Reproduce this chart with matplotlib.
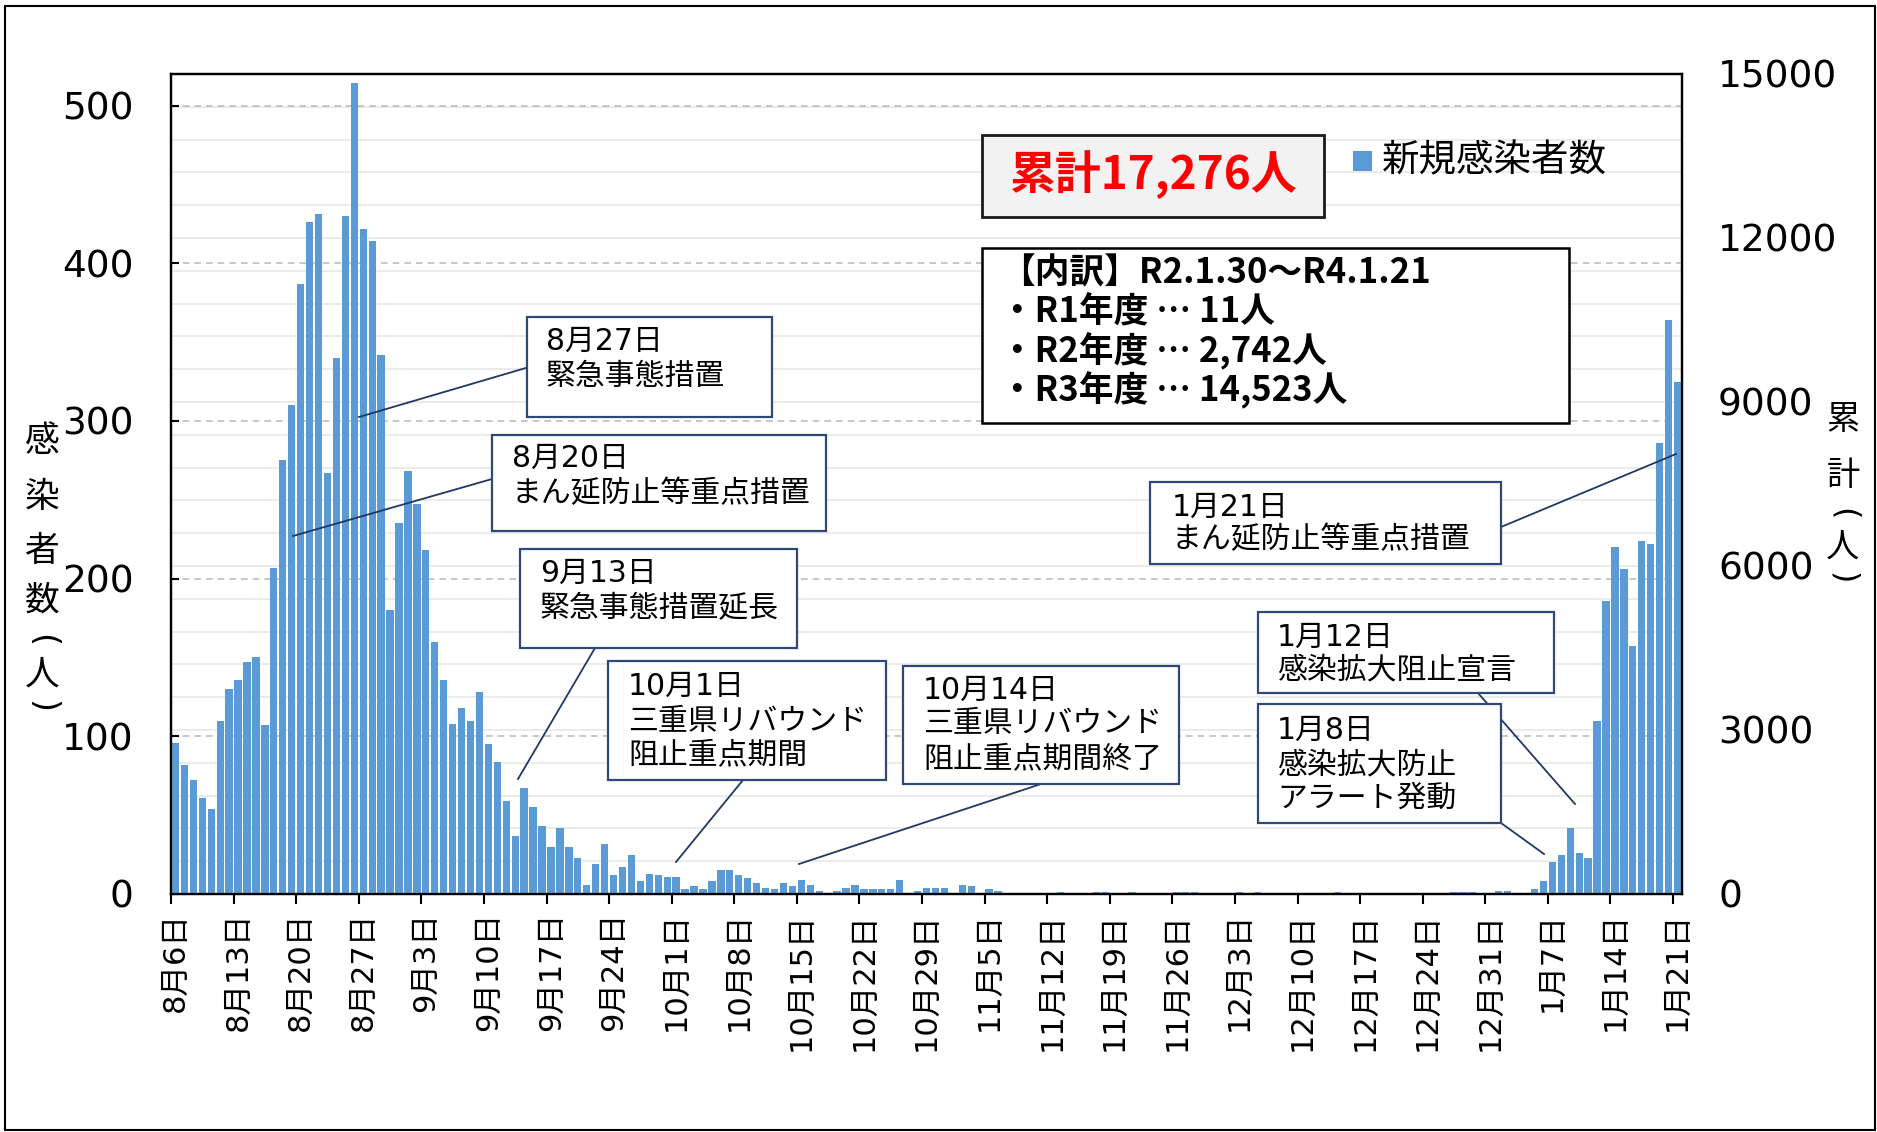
import numpy as np
import pandas as pd
import matplotlib
matplotlib.use('Agg')
import matplotlib.pyplot as plt
from matplotlib.patches import Rectangle
from matplotlib.lines import Line2D
from matplotlib.ticker import MultipleLocator

plt.rcParams['font.family'] = ['DejaVu Sans', 'Noto Sans CJK JP']

# ---------------- data (daily new cases) ----------------
aug = [96, 82, 72, 61, 54, 110, 130, 136, 147, 150, 107, 207, 275, 310, 387, 426,
       431, 267, 340, 430, 514, 422, 414, 342, 180, 235]
sep = [268, 247, 218, 160, 136, 108, 118, 110, 128, 95, 84, 59, 37, 67, 55, 43,
       30, 42, 30, 23, 6, 19, 32, 12, 17, 25, 8, 13, 12, 11]
octo = [11, 3, 5, 3, 8, 15, 15, 12, 10, 7, 4, 3, 7, 5, 9, 6, 2, 0, 2, 4, 6, 3, 3,
        3, 3, 9, 0, 2, 4, 4, 4]
nov = [0, 6, 5, 0, 3, 2, 0, 0, 0, 0, 0, 0, 1, 0, 0, 0, 1, 1, 0, 0, 1, 0, 0, 0, 0,
       1, 1, 1, 0, 0]
dec = [0, 0, 1, 0, 1, 0, 0, 0, 0, 0, 0, 0, 0, 1, 0, 0, 0, 0, 0, 0, 0, 0, 0, 0, 0,
       0, 1, 1, 1, 0, 0]
jan = [2, 2, 0, 0, 3, 8, 20, 25, 42, 26, 23, 110, 186, 220, 206, 157, 224, 222,
       286, 364, 325]
new_cases = aug + sep + octo + nov + dec + jan
dates = pd.date_range('2021-08-06', '2022-01-21', freq='D')
assert len(dates) == len(new_cases)

tick_labels = ['8月6日', '8月13日', '8月20日', '8月27日', '9月3日', '9月10日',
               '9月17日', '9月24日', '10月1日', '10月8日', '10月15日', '10月22日',
               '10月29日', '11月5日', '11月12日', '11月19日', '11月26日', '12月3日',
               '12月10日', '12月17日', '12月24日', '12月31日', '1月7日', '1月14日',
               '1月21日']

legend_label = '新規感染者数'
total_text = '累計17,276人'
breakdown = ['【内訳】R2.1.30～R4.1.21', '・R1年度 … 11人', '・R2年度 … 2,742人',
             '・R3年度 … 14,523人']
left_title = ['感', '染', '者', '数', '(', '人', ')']
right_title = ['累', '計', '(', '人', ')']

annotations = [
    # (lines, box(x0,y0,x1,y1) in px, line centers, text x, leader (x0,y0,x1,y1))
    (['8月27日', '緊急事態措置'], (527, 317, 772, 417), [341, 377], 546,
     (536, 365, 359, 417)),
    (['8月20日', 'まん延防止等重点措置'], (492, 435, 826, 531), [458, 494], 512,
     (492, 479, 293, 536)),
    (['9月13日', '緊急事態措置延長'], (520, 549, 797, 648), [573, 609], 540,
     (595, 648, 518, 779)),
    (['10月1日', '三重県リバウンド', '阻止重点期間'], (608, 661, 886, 780),
     [686, 721, 755], 628, (743, 780, 676, 862)),
    (['10月14日', '三重県リバウンド', '阻止重点期間終了'], (903, 666, 1179, 784),
     [690, 724, 759], 923, (1041, 784, 799, 864)),
    (['1月21日', 'まん延防止等重点措置'], (1150, 482, 1501, 564), [507, 540], 1172,
     (1501, 527, 1676, 454)),
    (['1月12日', '感染拡大阻止宣言'], (1258, 612, 1554, 693), [637, 670], 1277,
     (1478, 693, 1575, 804)),
    (['1月8日', '感染拡大防止', 'アラート発動'], (1258, 704, 1501, 823),
     [730, 765, 798], 1277, (1501, 823, 1544, 854)),
]

# ---------------- figure ----------------
W, H = 1877, 1132
fig = plt.figure(figsize=(W / 100, H / 100), dpi=100)


def fx(x):
    return x / W


def fy(y):
    return 1 - y / H


L, R, T, B = 171, 1682, 74, 894
ax = fig.add_axes([fx(L), fy(B), fx(R) - fx(L), fy(T) - fy(B)])
ax2 = ax.twinx()
ax.set_zorder(ax2.get_zorder() + 1)
ax.patch.set_visible(False)

blue = '#5B9BD5'
x = np.arange(len(new_cases))
ax.bar(x, new_cases, width=0.82, color=blue, zorder=2)

ax.set_xlim(-0.5, len(new_cases) - 0.5)
ax.set_ylim(0, 520)
ax.yaxis.set_major_locator(MultipleLocator(100))
ax.grid(axis='y', which='major', color='#BDBDBD', lw=1.2, ls=(0, (4, 3)))
ax.grid(axis='x', visible=False)
ax.set_axisbelow(True)

ax2.set_ylim(0, 15000)
ax2.yaxis.set_major_locator(MultipleLocator(3000))
ax2.yaxis.set_minor_locator(MultipleLocator(600))
ax2.grid(axis='y', which='both', color='#EBEBEB', lw=1.4)
ax2.tick_params(axis='y', which='both', length=0, pad=26, labelsize=27)

ax.set_xticks(x[::7])
ax.set_xticklabels(tick_labels, rotation=90, fontsize=22)
ax.set_xticks(x[::7] - 0.5, minor=True)
ax.tick_params(axis='x', which='major', length=0, pad=13)
ax.tick_params(axis='x', which='minor', length=7, width=1.5, direction='out')
ax.tick_params(axis='y', which='major', direction='in', length=6, width=1.5,
               pad=27, labelsize=27)

for a in (ax, ax2):
    for s in a.spines.values():
        s.set_linewidth(1.6)
        s.set_color('black')

# axis titles (stacked vertical text; parentheses turned for vertical writing)
cjk = ['Noto Sans CJK JP']
for ch, yy in zip(left_title, [441, 497, 551, 601, 640, 675, 706]):
    if ch in '()':
        fig.text(fx(42), fy(yy), ch, ha='center', va='center', fontsize=24,
                 rotation=-90, family=['DejaVu Sans'])
    else:
        fig.text(fx(42), fy(yy), ch, ha='center', va='center', fontsize=25,
                 family=cjk)
for ch, yy in zip(right_title, [419, 475, 514, 548, 578]):
    if ch in '()':
        fig.text(fx(1843), fy(yy), ch, ha='center', va='center', fontsize=23,
                 rotation=-90, family=['DejaVu Sans'])
    else:
        fig.text(fx(1843), fy(yy), ch, ha='center', va='center', fontsize=24,
                 family=cjk)

# total box
fig.patches.append(Rectangle((fx(982), fy(217)), fx(1324) - fx(982),
                             fy(135) - fy(217), transform=fig.transFigure,
                             facecolor='#F2F2F2', edgecolor='#1A1A1A', lw=2))
fig.text(fx(1153), fy(175), total_text, ha='center', va='center', fontsize=33,
         color='#FF0000', fontweight='bold', family=cjk)

# legend
fig.patches.append(Rectangle((fx(1353), fy(171)), fx(1372) - fx(1353),
                             fy(151) - fy(171), transform=fig.transFigure,
                             facecolor=blue, edgecolor='none'))
fig.text(fx(1382), fy(161), legend_label, ha='left', va='center', fontsize=27,
         family=cjk)

# breakdown box
fig.patches.append(Rectangle((fx(982), fy(423)), fx(1569) - fx(982),
                             fy(248) - fy(423), transform=fig.transFigure,
                             facecolor='white', edgecolor='black', lw=1.8))
for txt, yy in zip(breakdown, [273, 312, 351, 390]):
    fig.text(fx(1000), fy(yy), txt, ha='left', va='center', fontsize=25,
             fontweight='bold', family=cjk)

# annotation boxes
navy = '#2E4878'
for lines, (x0, y0, x1, y1), centers, tx, (lx0, ly0, lx1, ly1) in annotations:
    fig.lines.append(Line2D([fx(lx0), fx(lx1)], [fy(ly0), fy(ly1)],
                            transform=fig.transFigure, color='#1F3864', lw=1.3))
    fig.patches.append(Rectangle((fx(x0), fy(y1)), fx(x1) - fx(x0),
                                 fy(y0) - fy(y1), transform=fig.transFigure,
                                 facecolor='white', edgecolor=navy, lw=1.6,
                                 zorder=3))
    for t, yy in zip(lines, centers):
        fig.text(fx(tx), fy(yy), t, ha='left', va='center', fontsize=21.5,
                 zorder=4)

# outer border
fig.patches.append(Rectangle((fx(5), fy(1130)), fx(1875) - fx(5),
                             fy(6) - fy(1130), transform=fig.transFigure,
                             facecolor='none', edgecolor='black', lw=1.5))

fig.savefig('out.png', dpi=100)
